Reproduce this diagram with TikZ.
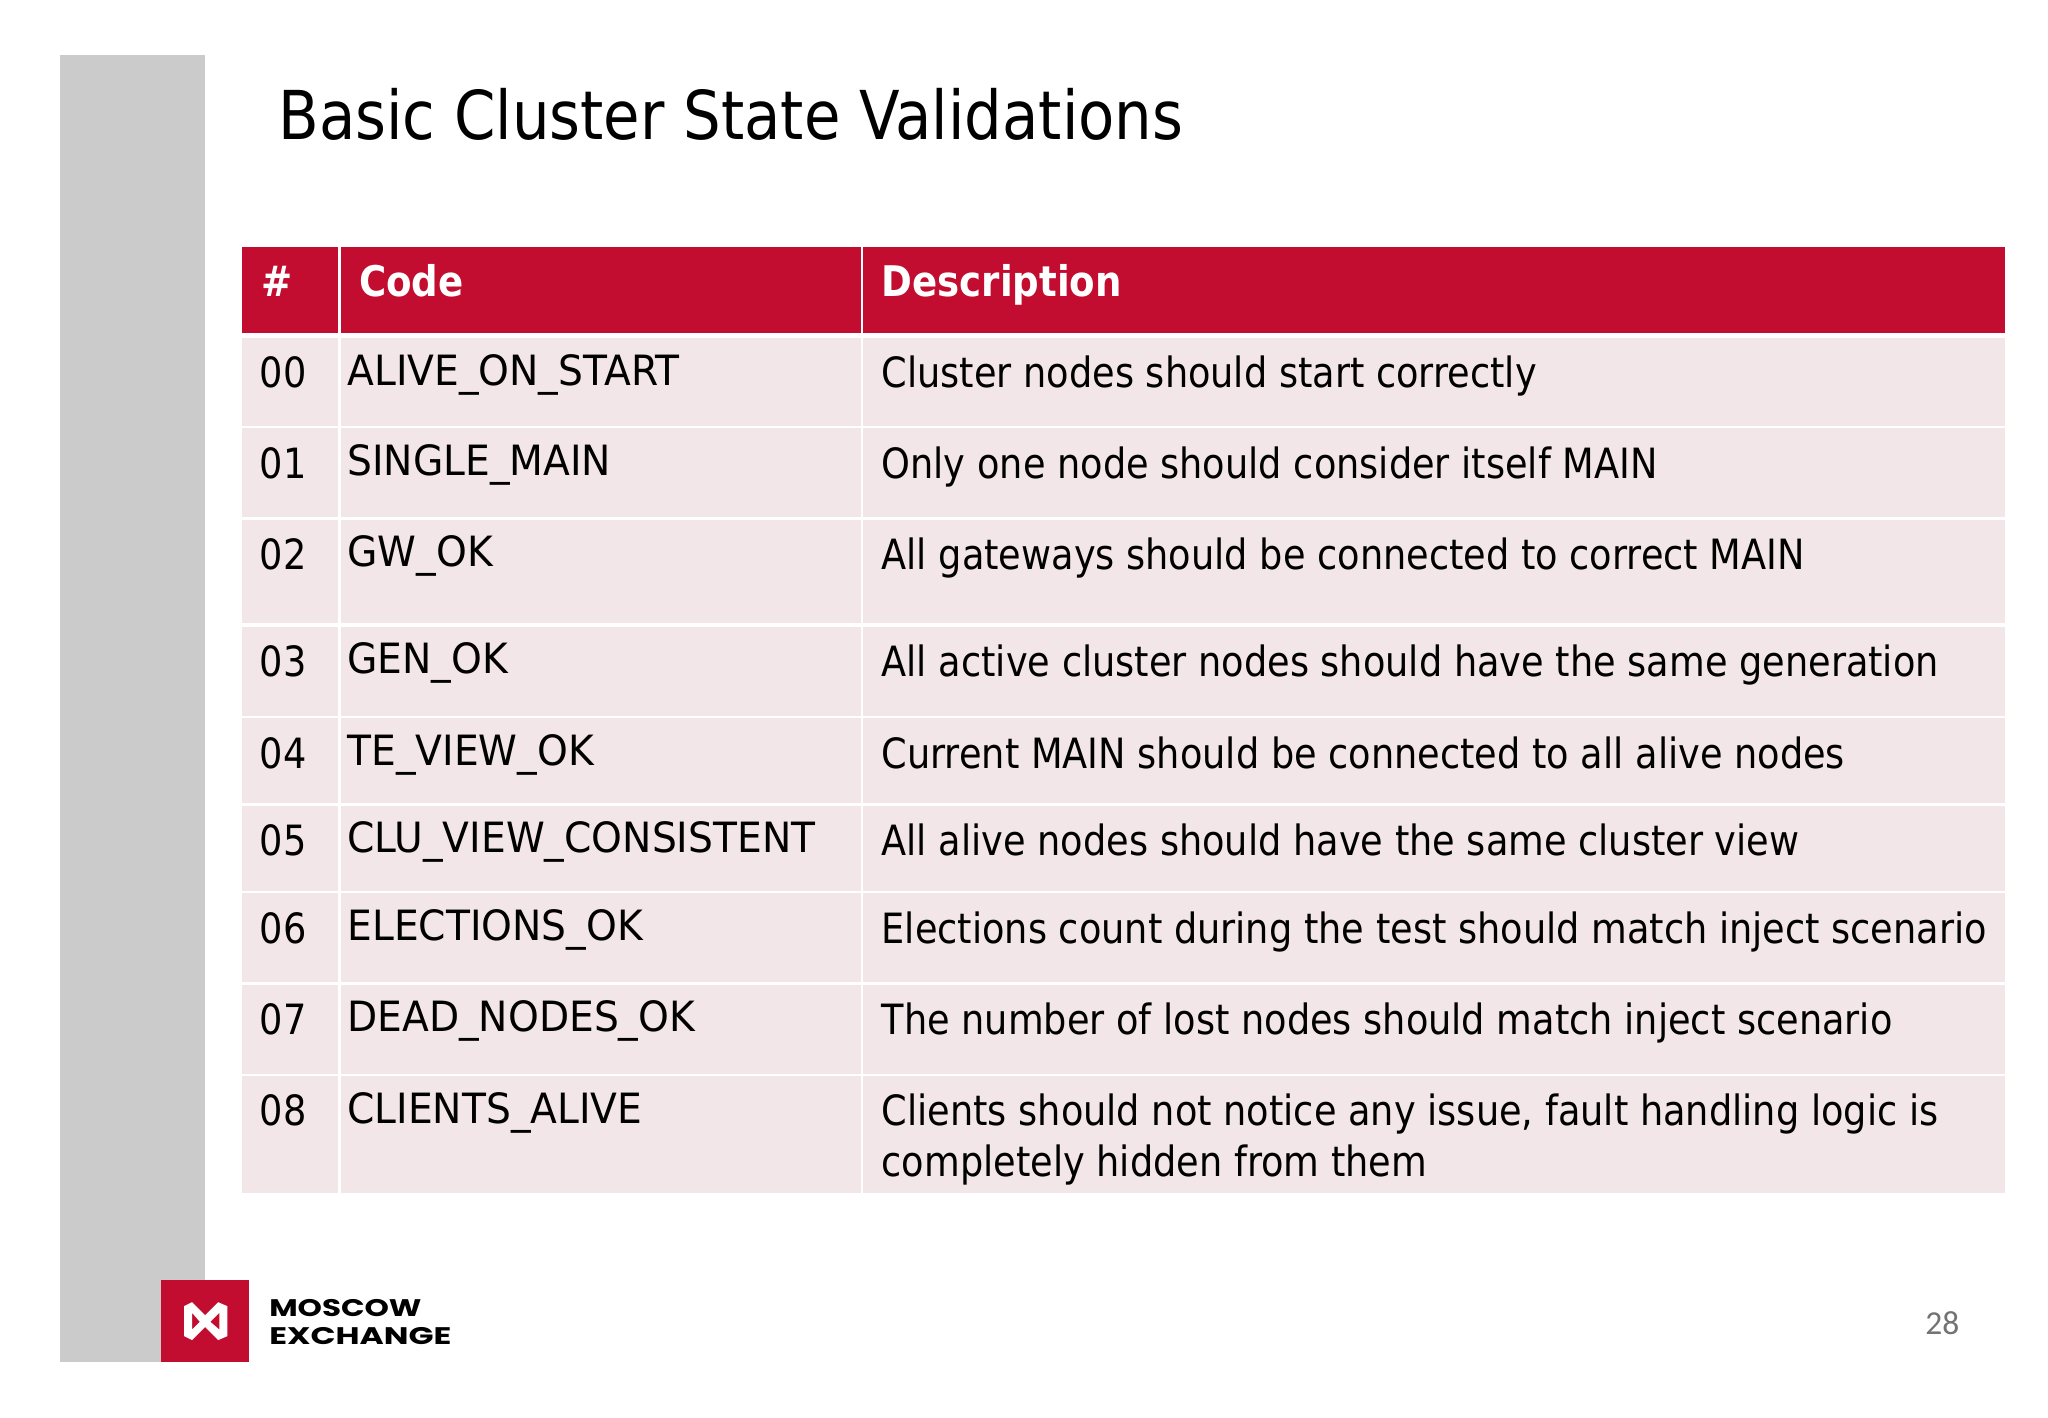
\documentclass[tikz,border=0pt]{standalone}
\usepackage{fontspec}
\setmainfont{DejaVu Sans}[FakeStretch=0.88]
\newfontfamily\codefont{DejaVu Sans}[FakeStretch=0.94]
\newfontfamily\logofont{Poppins}[FakeStretch=1.37]
\newfontfamily\logofontb{Poppins}[FakeStretch=1.29]
\newfontfamily\numfont{Carlito}
\definecolor{hdr}{HTML}{C30D30}
\definecolor{rowbg}{HTML}{F3E6E9}
\definecolor{side}{HTML}{CBCBCB}
\tikzset{
  x=1.30612pt,y=-1.30612pt,
  hcell/.style={fill=hdr,draw=none},
  bcell/.style={fill=rowbg,draw=none},
  txt/.style={anchor=base west,inner sep=0pt,outer sep=0pt,font=\fontsize{41.7}{51}\selectfont,text=black},
  ctxt/.style={txt,font=\codefont\fontsize{41.7}{51}\selectfont},
  htxt/.style={anchor=base west,inner sep=0pt,outer sep=0pt,font=\fontsize{42.2}{51}\selectfont\bfseries,text=white},
}
\newcommand{\tablerow}[6]{%
  \fill[bcell] (185,#1) rectangle (259,#2);
  \fill[bcell] (261,#1) rectangle (659,#2);
  \fill[bcell] (661,#1) rectangle (1535,#2);
  \node[txt] (n#3) at (199,#1+38) {#3};
  \node[ctxt] (c#3) at (266,#1+36) {#4};
  \node[txt,align=left] (d#3) at (675,#1+38+#6) {#5};
}
\begin{document}
\begin{tikzpicture}
\useasboundingbox (0,0) rectangle (1568,1085.6);
\fill[white] (0,0) rectangle (1568,1085.6);
\fill[side] (46,42) rectangle (157,1043);
\node[anchor=base west,inner sep=0pt,font=\fontsize{67.4}{80}\selectfont] (title) at (213,107) {Basic Cluster State Validations};
\fill[hcell] (185,189) rectangle (259,255);
\fill[hcell] (261,189) rectangle (659,255);
\fill[hcell] (661,189) rectangle (1535,255);
\node[htxt] (h0) at (200,227) {\#};
\node[htxt] (h1) at (275,227) {Code};
\node[htxt] (h2) at (675,227) {Description};
\tablerow{259}{326}{00}{ALIVE\_ON\_START}{Cluster nodes should start correctly}{0}
\tablerow{328}{396}{01}{SINGLE\_MAIN}{Only one node should consider itself MAIN}{0}
\tablerow{398}{477}{02}{GW\_OK}{All gateways should be connected to correct MAIN}{0}
\tablerow{480}{548}{03}{GEN\_OK}{All active cluster nodes should have the same generation}{0}
\tablerow{550}{615}{04}{TE\_VIEW\_OK}{Current MAIN should be connected to all alive nodes}{0}
\tablerow{617}{682}{05}{CLU\_VIEW\_CONSISTENT}{All alive nodes should have the same cluster view}{0}
\tablerow{684}{752}{06}{ELECTIONS\_OK}{Elections count during the test should match inject scenario}{0}
\tablerow{754}{822}{07}{DEAD\_NODES\_OK}{The number of lost nodes should match inject scenario}{0}
\tablerow{824}{913}{08}{CLIENTS\_ALIVE}{Clients should not notice any issue, fault handling logic is\\completely hidden from them}{39}
% logo
\fill[hdr] (123,980) rectangle (191,1043);
\fill[white,even odd rule]
  (141,1000) -- (147,997) -- (157,1007) -- (167,997) -- (174,1000) -- (174,1023) -- (167,1026) -- (157,1016) -- (147,1026) -- (141,1023) -- cycle
  (147,1005) -- (147,1018) -- (153,1012) -- cycle
  (168,1005) -- (168,1018) -- (161,1012) -- cycle;
\node[anchor=base west,inner sep=0pt,font=\logofontb\bfseries\fontsize{24}{24}\selectfont] (lg1) at (206,1008) {MOSCOW};
\node[anchor=base west,inner sep=0pt,font=\logofont\bfseries\fontsize{24}{24}\selectfont] (lg2) at (206,1029) {EXCHANGE};
\node[anchor=base west,inner sep=0pt,font=\numfont\fontsize{33.5}{33.5}\selectfont,text=black!55] (pg) at (1474,1022) {28};
\end{tikzpicture}
\end{document}
